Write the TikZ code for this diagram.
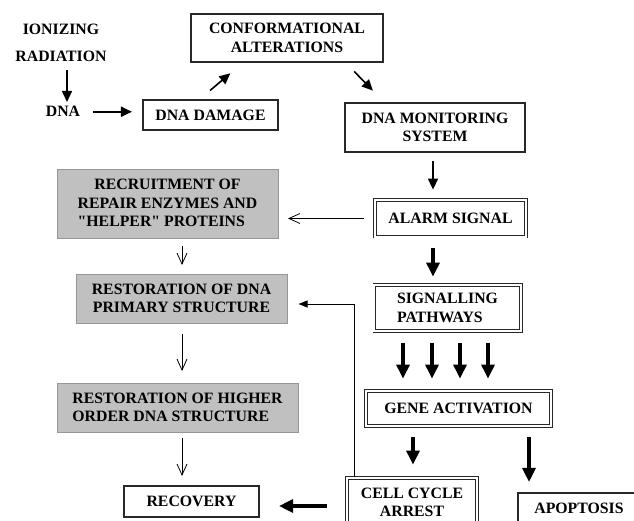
\documentclass[tikz,border=0pt]{standalone}
\usepackage{fontspec}
\setmainfont{Liberation Serif}[Ligatures=TeXOff]
\usetikzlibrary{arrows.meta}
\definecolor{boxgray}{RGB}{192,192,192}
\definecolor{edgegray}{RGB}{150,150,150}
\definecolor{inkline}{RGB}{40,40,40}

\begin{document}
\begin{tikzpicture}[x=1pt, y=-1pt,
  font={\fontsize{15.8pt}{18.5pt}\selectfont\bfseries},
  plainbox/.style={draw=inkline, line width=1.1pt, inner sep=0pt, align=center},
  dblbox/.style={draw=inkline, double, double distance=2pt, line width=0.8pt, inner sep=0pt, align=center},
  greybox/.style={draw=edgegray, fill=boxgray, line width=1pt, inner sep=0pt, align=center},
  medarrow/.style={line width=1.6pt, -{Triangle[length=11pt,width=10pt]}},
  heavyarrow/.style={line width=3.2pt, -{Triangle[length=14pt,width=13pt]}},
  thinarrow/.style={line width=0.8pt, -{Straight Barb[length=11pt,width=10pt]}},
  backarrow/.style={line width=0.9pt, -{Triangle[length=9pt,width=7pt]}}]
\useasboundingbox (0,0) rectangle (634,521);
\clip (0,0) rectangle (634,521);

% damage chain
\node[align=center] (ionizing) at (61,43.25) {IONIZING\\[8.5pt]RADIATION};
\node (dna) at (63,111.75) {DNA};
\node[plainbox, minimum width=135pt, minimum height=30pt] (damage) at (210.5,115) {DNA DAMAGE};
\node[plainbox, minimum width=192pt, minimum height=48pt] (conform) at (287,38) {CONFORMATIONAL\\ALTERATIONS};
\node[plainbox, minimum width=180pt, minimum height=49pt] (monitor) at (435,127.5) {DNA MONITORING\\SYSTEM};

% signalling column
\node[dblbox, minimum width=151.4pt, minimum height=36.4pt] (alarm) at (450.5,218.5) {ALARM SIGNAL};
\node[dblbox, align=left, minimum width=146.4pt, minimum height=46.4pt] (signal) at (447.5,308) {SIGNALLING\\PATHWAYS};
\node[dblbox, minimum width=185.4pt, minimum height=35.4pt] (gene) at (458.5,408.5) {GENE ACTIVATION};
\node[dblbox, minimum width=130.4pt, minimum height=49.4pt] (arrest) at (412,502.5) {CELL CYCLE\\ARREST};
\node[plainbox, minimum width=122pt, minimum height=30pt] (apopt) at (579,508) {APOPTOSIS};

% repair column
\node[greybox, minimum width=221pt, minimum height=69pt] (recruit) at (167.5,204.5)
  {\begin{tabular}{@{}l@{}}\multicolumn{1}{@{}c@{}}{RECRUITMENT OF}\\REPAIR ENZYMES AND\\"HELPER" PROTEINS\end{tabular}};
\node[greybox, minimum width=211pt, minimum height=49pt] (restprim) at (181.5,298.5) {RESTORATION OF DNA\\PRIMARY STRUCTURE};
\node[greybox, align=left, minimum width=241pt, minimum height=49pt] (resthigh) at (177.5,407.5) {RESTORATION OF HIGHER\\ORDER DNA STRUCTURE};
\node[plainbox, minimum width=135pt, minimum height=31pt] (recovery) at (191.5,501.5) {RECOVERY};
\coordinate (spine) at (182,0);

% connectors
\draw[medarrow, shorten <=4.7pt, shorten >=1pt] ([xshift=6pt]ionizing.south) -- ([xshift=6pt]ionizing.south |- dna.north);
\draw[medarrow, line width=2pt, shorten <=9.7pt, shorten >=10.5pt] (dna.east) -- (dna.east -| damage.west);
\draw[medarrow, shorten <=13.8pt, shorten >=16.6pt] ([xshift=-11pt]damage.north) -- ([xshift=-44pt]conform.south);
\draw[medarrow, shorten <=12.4pt, shorten >=16.5pt] ([xshift=58.5pt]conform.south) -- ([xshift=-50.6pt]monitor.north);
\draw[medarrow, shorten <=8.5pt, shorten >=10.3pt] ([xshift=-2pt]monitor.south) -- ([xshift=-2pt]monitor.south |- alarm.north);
\draw[thinarrow, shorten <=10.8pt, shorten >=9.5pt] (alarm.west) -- (alarm.west -| recruit.east);
\draw[heavyarrow, shorten <=11.3pt, shorten >=7.8pt] ([xshift=-17.5pt]alarm.south) -- ([xshift=-17.5pt]alarm.south |- signal.north);
\foreach \dx in {-55.5,-26.5,1.5,29.5}
  \draw[heavyarrow, shorten <=11.8pt, shorten >=11.8pt] ([xshift=\dx pt]gene.north |- signal.south) -- ([xshift=\dx pt]gene.north);
\draw[heavyarrow, shorten <=10.8pt, shorten >=12.8pt] ([xshift=-45.5pt]gene.south) -- ([xshift=-45.5pt]gene.south |- arrest.north);
\draw[heavyarrow, shorten <=10.8pt, shorten >=10.5pt] ([xshift=70.5pt]gene.south) -- ([xshift=70.5pt]gene.south |- apopt.north);
\draw[heavyarrow, shorten <=19.8pt, shorten >=19.5pt] ([yshift=-3.5pt]arrest.west) -- ([yshift=-3.5pt]arrest.west -| recovery.east);
\draw[backarrow] ([xshift=-58pt]arrest.north) |- ([xshift=11pt,yshift=-5.5pt]restprim.east);
\draw[thinarrow, shorten <=6.5pt, shorten >=8.5pt] (spine |- recruit.south) -- (spine |- restprim.north);
\draw[thinarrow, shorten <=10.5pt, shorten >=11.5pt] (spine |- restprim.south) -- (spine |- resthigh.north);
\draw[thinarrow, shorten <=5.5pt, shorten >=9.5pt] (spine |- resthigh.south) -- (spine |- recovery.north);
\end{tikzpicture}
\end{document}
